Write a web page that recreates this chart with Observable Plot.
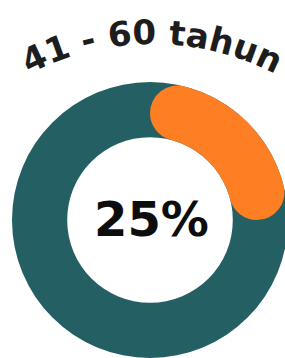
<!DOCTYPE html>
<html>
<head>
<meta charset="utf-8">
<script src="https://cdn.jsdelivr.net/npm/d3@7"></script>
<script src="https://cdn.jsdelivr.net/npm/@observablehq/plot@0.6"></script>
<style>
  html, body { margin: 0; padding: 0; background: #ffffff; }
  #chart svg { display: block; }
</style>
</head>
<body>
<div id="chart"></div>
<script>
// Data
const categories = ["41 - 60 tahun", "Lainnya"];
const values = [25, 75];
const title = "41 - 60 tahun";
const centerLabel = "25%";
const colors = ["#FD7E23", "#245F64"];

const table = categories.map((c, i) => ({category: c, value: values[i], color: colors[i]}));

// Donut mark drawn through the plot's x/y scales
function donut(index, scales) {
  const {x, y} = scales;
  const cx = x(0), cy = y(0);
  const R = x(1) - x(0);
  const r = R * 0.6;
  const pie = d3.pie().sort(null).value(d => d.value).startAngle(0).endAngle(2 * Math.PI)(table);
  const g = d3.create("svg:g").attr("transform", `translate(${cx},${cy})`);
  // full track in the "rest" colour
  g.append("path")
    .attr("d", d3.arc().innerRadius(r).outerRadius(R)({startAngle: 0, endAngle: 2 * Math.PI}))
    .attr("fill", table[1].color);
  // highlighted share with rounded ends
  g.append("path")
    .attr("d", d3.arc().innerRadius(r).outerRadius(R).cornerRadius((R - r) / 2)(pie[0]))
    .attr("fill", table[0].color);
  return g.node();
}

// Curved title along an arc above the donut
function curvedTitle(index, scales) {
  const {x, y} = scales;
  const R = x(1) - x(0);
  const cx = x(0) + 2, cy = y(0) + R * 0.66;
  const rr = R * 1.935;
  const half = 29.5 * Math.PI / 180;
  const x0 = cx - rr * Math.sin(half), x1 = cx + rr * Math.sin(half);
  const yEnd = cy - rr * Math.cos(half);
  const g = d3.create("svg:g");
  const id = "title-arc";
  g.append("path")
    .attr("id", id)
    .attr("d", `M${x0},${yEnd} A${rr},${rr} 0 0 1 ${x1},${yEnd}`)
    .attr("fill", "none");
  g.append("text")
    .attr("font-family", "DejaVu Sans, sans-serif")
    .attr("font-weight", "bold")
    .attr("font-size", 34)
    .attr("fill", "#1d1d1d")
    .append("textPath")
    .attr("href", "#" + id)
    .attr("startOffset", "50%")
    .attr("text-anchor", "middle")
    .text(title);
  return g.node();
}

const chart = Plot.plot({
  width: 285,
  height: 358,
  margin: 0,
  x: {domain: [-1, 1], range: [12, 288], axis: null},
  y: {domain: [-1, 1], range: [358, 82], axis: null},
  style: {background: "#ffffff", overflow: "visible"},
  marks: [
    donut,
    curvedTitle,
    Plot.text([centerLabel], {
      x: 0, y: 0, text: d => d,
      fontSize: 48, fontWeight: "bold",
      fontFamily: "DejaVu Sans, sans-serif",
      fill: "#0d0d0d", dx: 1
    })
  ]
});
document.getElementById("chart").appendChild(chart);
</script>
</body>
</html>
